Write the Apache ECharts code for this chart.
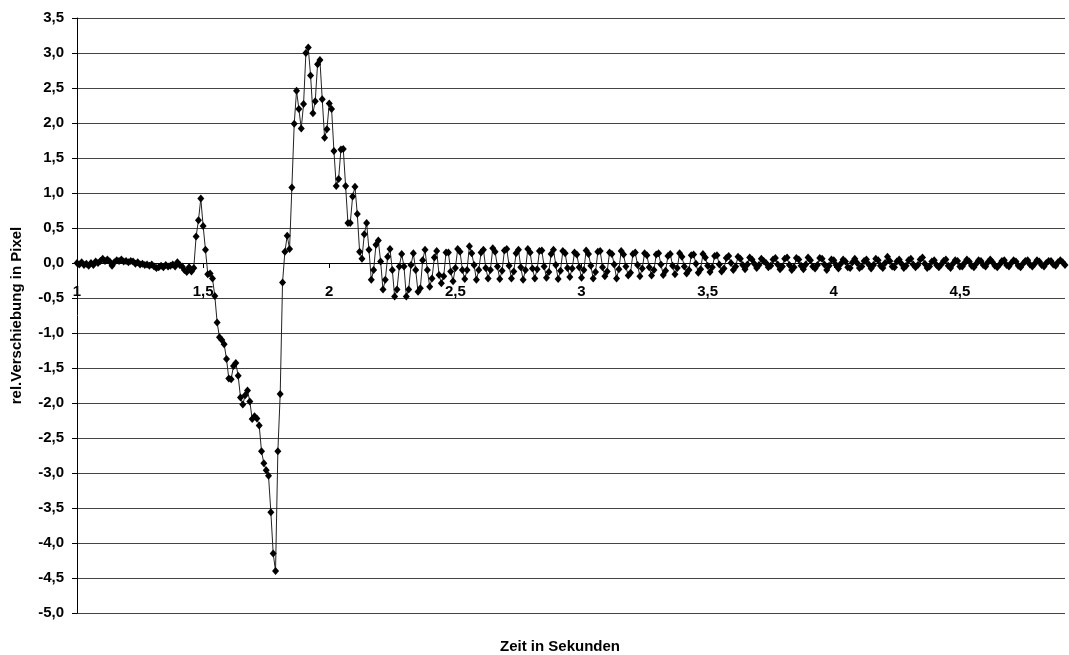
<!DOCTYPE html>
<html>
<head>
<meta charset="utf-8">
<title>rel. Verschiebung</title>
<script src="https://cdn.jsdelivr.net/npm/echarts@6/dist/echarts.min.js"></script>
<style>
  html, body { margin: 0; padding: 0; background: #fff; }
  #chart { width: 1069px; height: 655px; }
</style>
</head>
<body>
<div id="chart"></div>
<script>
// Aufnahme: Startzeit und Bildrate der Messung
const START_TIME = 1;      // s
const FRAME_RATE = 108;    // Bilder pro Sekunde

// Relative Verschiebung in Pixel, ein Wert pro Bild
const ruhephase = [
  0.00, -0.02, 0.01, -0.03, -0.01, -0.04, 0.00, -0.03, 0.02, 0.00,
  0.03, 0.06, 0.03, 0.05, 0.02, -0.04, 0.01, 0.04, 0.03, 0.05,
  0.02, 0.03, 0.01, 0.03, 0.02, -0.01, 0.01, -0.02, -0.01, -0.03,
  -0.02, -0.04, -0.02, -0.05, -0.07, -0.06, -0.04, -0.06, -0.03, -0.05,
  -0.04, -0.02, -0.05, 0.01, -0.03, -0.05, -0.10, -0.13, -0.06, -0.12,
  -0.07
];
const ausschlag = [
  0.38, 0.61, 0.92, 0.53, 0.19, -0.16, -0.15, -0.22, -0.47, -0.85,
  -1.06, -1.10, -1.16, -1.37, -1.65, -1.66, -1.47, -1.43, -1.61, -1.92,
  -2.02, -1.89, -1.82, -1.98, -2.23, -2.19, -2.22, -2.32, -2.69, -2.86,
  -2.96, -3.04, -3.56, -4.15, -4.40, -2.69, -1.87, -0.28, 0.16, 0.39,
  0.20, 1.08, 1.99, 2.46, 2.20, 1.92, 2.27, 3.00, 3.08, 2.68,
  2.14, 2.31, 2.84, 2.90, 2.34, 1.79, 1.91, 2.28, 2.20, 1.60,
  1.10, 1.20, 1.62, 1.63, 1.10, 0.57, 0.57, 0.95, 1.09, 0.70,
  0.16, 0.06, 0.41, 0.57, 0.19
];
const nachschwingen = [
  -0.24, -0.10, 0.26, 0.32, 0.02, -0.38, -0.24, 0.09, 0.20, -0.10,
  -0.48, -0.38, -0.05, 0.13, -0.05, -0.48, -0.38, -0.03, 0.14, -0.10,
  -0.41, -0.36, 0.04, 0.19, -0.10, -0.34, -0.22, 0.08, 0.17, -0.17,
  -0.29, -0.19, 0.15, 0.15, -0.12, -0.26, -0.07, 0.20, 0.16, -0.10,
  -0.23, -0.10, 0.24, 0.14, -0.03, -0.24, -0.10, 0.15, 0.19, -0.07,
  -0.22, -0.10,
  0.21, 0.16, -0.05, -0.23, -0.11,
  0.18, 0.20, -0.04, -0.22, -0.12,
  0.14, 0.19, -0.06, -0.24, -0.10,
  0.20, 0.15, -0.08, -0.22, -0.09,
  0.17, 0.18, -0.05, -0.21, -0.13,
  0.13, 0.19, -0.03, -0.23, -0.11,
  0.17, 0.14, -0.07, -0.20, -0.08,
  0.15, 0.12, -0.06,
  -0.21, -0.10, 0.18, 0.13, -0.04,
  -0.22, -0.13, 0.16, 0.17, -0.06,
  -0.19, -0.12, 0.15, 0.13, -0.02,
  -0.22, -0.09, 0.17, 0.12, -0.05,
  -0.18, -0.14, 0.13, 0.15, -0.03,
  -0.19, -0.08, 0.14, 0.11, -0.06,
  -0.18, -0.10, 0.12, 0.14, -0.02,
  -0.17, -0.11, 0.10, 0.13, -0.04,
  -0.16, -0.07, 0.14, 0.09, -0.05,
  -0.15, -0.10, 0.11, 0.12, -0.01,
  -0.14, -0.09, 0.13, 0.08, -0.04
];
const ausklingen = [
  -0.13, -0.06, 0.10, 0.11, -0.02,
  -0.12, -0.08, 0.07, 0.10, 0.00,
  -0.10, -0.05, 0.09, 0.06, -0.03,
  -0.09, -0.02, 0.08, 0.05, -0.01,
  -0.07, -0.03, 0.06, 0.03, 0.00,
  -0.06, -0.04, 0.05, 0.07, -0.02,
  -0.09, -0.05, 0.06, 0.08, -0.03,
  -0.10, -0.06, 0.07, 0.05, -0.04,
  -0.09, -0.02, 0.08, 0.04, -0.05,
  -0.08, -0.03, 0.07, 0.06, -0.02,
  -0.10, -0.04, 0.05,
  0.04, -0.03, -0.08, -0.01, 0.05,
  0.02, -0.06, -0.07, 0.01, 0.06,
  0.00, -0.07, -0.05, 0.03, 0.05,
  -0.02, -0.08, -0.03, 0.06, 0.04,
  -0.04, -0.07, 0.00, 0.09, 0.03,
  -0.05, -0.06, 0.02, 0.05, -0.01,
  -0.07, -0.04, 0.04, 0.06, -0.02,
  -0.06, -0.03, 0.05, 0.08, -0.01,
  -0.07, -0.05, 0.02, 0.04, -0.03,
  -0.06, -0.02, 0.03, 0.05, -0.04,
  -0.07, -0.01, 0.04, 0.03, -0.05,
  -0.05, 0.00, 0.05, 0.02, -0.04,
  -0.06, -0.01, 0.04, 0.03, -0.03,
  -0.05, 0.01, 0.05, 0.01, -0.04,
  -0.06, -0.02, 0.03, 0.04, -0.03,
  -0.05, 0.00, 0.04, 0.02, -0.04,
  -0.06, -0.01, 0.03, 0.04, -0.02,
  -0.05, -0.01, 0.04, 0.02, -0.03,
  -0.05, 0.00, 0.03, 0.03, -0.02,
  -0.04, 0.01, 0.04, 0.01, -0.03
];

const yTicks = { min: -5, max: 3.5, step: 0.5 };
const xTicks = { step: 0.5 };

const verschiebung = ruhephase.concat(ausschlag, nachschwingen, ausklingen);
const punkte = verschiebung.map((v, i) => [START_TIME + i / FRAME_RATE, v]);
const endTime = punkte[punkte.length - 1][0];

const komma = (v, d) => v.toFixed(d).replace('.', ',');
const FONT = '"Liberation Sans", Arial, sans-serif';
const FONT_SIZE = 15;

// Plotbereich
const GRID = { left: 77, right: 4, top: 18, bottom: 42 };
const plotHeight = 655 - GRID.top - GRID.bottom;
// Zeitachse liegt auf der Nulllinie der Verschiebung
const zeroOffset = -plotHeight * (0 - yTicks.min) / (yTicks.max - yTicks.min);

const chart = echarts.init(document.getElementById('chart'), null, { renderer: 'canvas' });
chart.setOption({
  animation: false,
  backgroundColor: '#fff',
  grid: Object.assign({ containLabel: false, outerBoundsMode: 'none' }, GRID),
  xAxis: {
    type: 'value',
    position: 'bottom',
    offset: zeroOffset,
    min: START_TIME,
    max: endTime,
    interval: xTicks.step,
    axisLine: { onZero: false, lineStyle: { color: '#000', width: 1 } },
    axisTick: { show: true, inside: false, length: 5, lineStyle: { color: '#000' } },
    splitLine: { show: false },
    axisLabel: {
      margin: 21,
      color: '#000',
      fontFamily: FONT,
      fontWeight: 'bold',
      fontSize: FONT_SIZE,
      showMaxLabel: false,
      formatter: v => {
        const k = v / xTicks.step;
        if (Math.abs(k - Math.round(k)) > 1e-6) return '';
        return Number.isInteger(v) ? String(v) : komma(v, 1);
      }
    }
  },
  yAxis: {
    type: 'value',
    min: yTicks.min,
    max: yTicks.max,
    interval: yTicks.step,
    name: 'rel.Verschiebung in Pixel',
    nameLocation: 'middle',
    nameRotate: 90,
    nameGap: 53,
    nameTextStyle: { color: '#000', fontFamily: FONT, fontWeight: 'bold', fontSize: FONT_SIZE },
    axisLine: { show: true, lineStyle: { color: '#000', width: 1 } },
    axisTick: { show: true, inside: false, length: 5, lineStyle: { color: '#000' } },
    splitLine: { show: true, lineStyle: { color: '#444', width: 1 } },
    axisLabel: {
      margin: 13,
      color: '#000',
      fontFamily: FONT,
      fontWeight: 'bold',
      fontSize: FONT_SIZE,
      formatter: v => komma(v, 1)
    }
  },
  graphic: [{
    type: 'text',
    x: 560,
    y: 647,
    style: {
      text: 'Zeit in Sekunden',
      fill: '#000',
      font: 'bold ' + FONT_SIZE + 'px ' + FONT,
      textAlign: 'center',
      textVerticalAlign: 'middle'
    }
  }],
  series: [{
    type: 'line',
    data: punkte,
    symbol: 'diamond',
    symbolSize: [7, 8],
    showAllSymbol: true,
    itemStyle: { color: '#000', borderWidth: 0 },
    lineStyle: { color: '#222', width: 1 },
    clip: false
  }]
});
</script>
</body>
</html>
